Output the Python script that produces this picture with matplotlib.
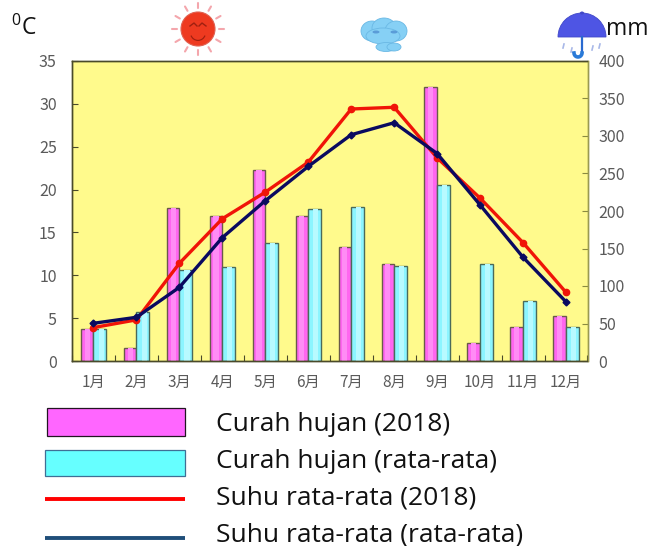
import matplotlib
matplotlib.use("Agg")
import matplotlib.pyplot as plt
from matplotlib.patches import Circle, Ellipse, Wedge, Rectangle
from matplotlib.legend_handler import HandlerBase
from matplotlib.lines import Line2D
import numpy as np

months = ['1月','2月','3月','4月','5月','6月','7月','8月','9月','10月','11月','12月']
rain_2018 = [43, 18, 204, 193, 254, 193, 152, 130, 365, 24, 45, 60]
rain_avg = [43, 65, 122, 125, 157, 202, 205, 127, 235, 130, 80, 45]
temp_2018 = [3.9, 4.8, 11.4, 16.6, 19.7, 23.2, 29.4, 29.6, 23.7, 19.0, 13.8, 8.0]
temp_avg = [4.4, 5.1, 8.6, 14.4, 18.7, 22.7, 26.4, 27.8, 24.2, 18.2, 12.1, 6.9]
temp_ticks = list(range(0, 36, 5))
rain_ticks = list(range(0, 401, 50))
legend_labels = ['Curah hujan (2018)', 'Curah hujan (rata-rata)',
                 'Suhu rata-rata (2018)', 'Suhu rata-rata (rata-rata)']

W, H = 655, 546
tick_font = ['Noto Sans CJK JP', 'DejaVu Sans']
text_font = 'Open Sans'
tick_col = '#5a5a5a'
frame_col = '#4a4a2a'

fig = plt.figure(figsize=(W/100, H/100), dpi=100, facecolor='white')
L, R, T, B = 72, 587.5, 61, 361
rect = [L/W, 1-B/H, (R-L)/W, (B-T)/H]

ax_r = fig.add_axes(rect, facecolor='#FFFA8C', zorder=1)
ax_l = ax_r.twinx()
ax_l.set_zorder(2)
ax_l.patch.set_visible(False)

x = np.arange(len(months))
bw = 0.295
ax_r.bar(x-bw/2, rain_2018, bw, color='#FF66F0', edgecolor='#6a5a4a', linewidth=1.0)
ax_r.bar(x+bw/2, rain_avg, bw, color='#8CF5FF', edgecolor='#4a6a5a', linewidth=1.0)
ax_r.bar(x-bw/2, rain_2018, bw*0.4, color='#FF8CF5', linewidth=0)
ax_r.bar(x+bw/2+bw*0.1, rain_avg, bw*0.4, color='#B8FAFF', linewidth=0)
ax_r.set_xlim(-0.5, 11.5)
ax_r.set_ylim(0, 400)
ax_l.set_ylim(0, 35)

ax_l.plot(x, temp_2018, color='#F01408', lw=2.4, marker='o', ms=4.5)
ax_l.plot(x, temp_avg, color='#0A0A60', lw=2.4, marker='D', ms=3.5)

ax_r.yaxis.tick_right()
ax_l.yaxis.tick_left()
ax_r.set_yticks(rain_ticks)
ax_l.set_yticks(temp_ticks)
ax_r.set_xticks(np.arange(-0.5, 12, 1))
ax_r.set_xticklabels([])
ax_r.set_xticks(x, minor=True)
ax_r.set_xticklabels(months, minor=True, fontfamily=tick_font, fontsize=11, color=tick_col)
ax_r.tick_params(axis='x', which='minor', length=0, pad=9)
ax_r.tick_params(axis='x', which='major', direction='in', length=4, color=frame_col)
ax_r.tick_params(axis='y', direction='in', length=4, color='#8a8a40', pad=8,
                 labelcolor=tick_col, labelsize=11.5)
ax_l.tick_params(axis='y', direction='in', length=4, color=frame_col, pad=11,
                 labelcolor=tick_col, labelsize=11.5)
for lab in ax_r.get_yticklabels() + ax_l.get_yticklabels():
    lab.set_fontfamily(tick_font)
for a in (ax_r, ax_l):
    for side, sp in a.spines.items():
        sp.set_linewidth(1.0)
        sp.set_color('#9a9a50' if side == 'right' else frame_col)

# Overlay in pixel coordinates for the pictograms, unit labels and legend
ov = fig.add_axes([0, 0, 1, 1], zorder=5)
ov.set_xlim(0, W); ov.set_ylim(H, 0); ov.axis('off')

ov.text(11, 35, r'$\mathregular{^{0}}$C', fontsize=16.5, family=text_font, color='#111111', va='baseline')
ov.text(606, 35, 'mm', fontsize=16.5, family=text_font, color='#111111', va='baseline')

# sun
sx, sy = 198, 29
for a in np.arange(0, 360, 30):
    c, s = np.cos(np.radians(a)), np.sin(np.radians(a))
    ov.plot([sx+21*c, sx+26*c], [sy+21*s, sy+26*s], color='#F4A6AC', lw=1.5, solid_capstyle='round')
ov.add_patch(Circle((sx, sy), 17, fc='#EE3A20', ec='#E06050', lw=0.8))
ov.plot([sx-8, sx-4, sx-1], [sy-3, sy-6, sy-3], color='#A02010', lw=1)
ov.plot([sx+1, sx+4, sx+8], [sy-3, sy-6, sy-3], color='#A02010', lw=1)
ov.add_patch(Wedge((sx, sy+4), 8, 20, 160, width=1.2, fc='#A02010', ec='none'))

# cloud
for cx, cy, w, h in [(372, 31, 22, 20), (384, 28, 24, 20), (396, 31, 22, 20),
                     (383, 36, 34, 16), (386, 47, 20, 9), (394, 47, 14, 8)]:
    ov.add_patch(Ellipse((cx, cy), w, h, fc='#86D0F5', ec='#6AB8E4', lw=0.6))
for cx in (376, 394):
    ov.add_patch(Ellipse((cx, 32), 7, 3, fc='#5A9CD8', ec='none'))

# umbrella
ux, uy = 582, 37
ov.add_patch(Wedge((ux, uy), 24, 180, 360, fc='#4E55E4', ec='#4048C8', lw=0.6))
ov.add_patch(Ellipse((ux, 13), 4, 3, fc='#4048C8', ec='none'))
ov.plot([ux, ux], [uy, 53], color='#2A6AD0', lw=1.6)
ov.plot(ux-4+4*np.cos(np.linspace(0, np.pi, 12)), 53+4*np.sin(np.linspace(0, np.pi, 12)),
        color='#2A7AD8', lw=2.6)
for dx, dy in [(-18, 44), (-10, 48), (11, 46), (18, 44)]:
    ov.plot([ux+dx, ux+dx-1], [dy, dy+4], color='#A8B8E8', lw=1.2)


class Entry(HandlerBase):
    """Legend key with its own offset (px) from the row centre."""
    def __init__(self, dy=0, left=0, height=None):
        super().__init__()
        self.dy, self.left, self.height = dy, left, height

    def create_artists(self, legend, orig, xd, yd, w, h, fs, trans):
        k = 72/100
        cy = -yd + h/2 - self.dy*k
        if isinstance(orig, Rectangle):
            art = Rectangle((-xd+self.left*k, cy-self.height*k/2), w-self.left*k, self.height*k,
                            fc=orig.get_facecolor(), ec=orig.get_edgecolor(),
                            lw=orig.get_linewidth(), transform=trans)
        else:
            art = Line2D([-xd, -xd+w], [cy, cy], color=orig.get_color(),
                         lw=orig.get_linewidth(), solid_capstyle='butt', transform=trans)
        return [art]


leg_h1 = Rectangle((0, 0), 1, 1, fc='#FF66FF', ec='#221522', lw=0.9)
leg_h2 = Rectangle((0, 0), 1, 1, fc='#66FFFF', ec='#3F6F95', lw=0.9)
leg_l1 = Line2D([0], [0], color='#FF0000', lw=2.8)
leg_l2 = Line2D([0], [0], color='#1F4E79', lw=2.8)
fs = 19.0
leg = ov.legend([leg_h1, leg_h2, leg_l1, leg_l2], legend_labels,
                prop={'family': text_font, 'size': fs},
                loc='upper left', bbox_to_anchor=(45/W, 1-410/H), bbox_transform=fig.transFigure,
                frameon=False, borderaxespad=0, borderpad=0,
                handlelength=140/(fs*100/72), handleheight=1.0, handletextpad=1.17, labelspacing=0.38,
                handler_map={leg_h1: Entry(0, 2, 28), leg_h2: Entry(4.5, 0, 26),
                             leg_l1: Entry(3), leg_l2: Entry(5.5)})
for t in leg.get_texts():
    t.set_color('#111111')

fig.savefig('out.png', dpi=100)
